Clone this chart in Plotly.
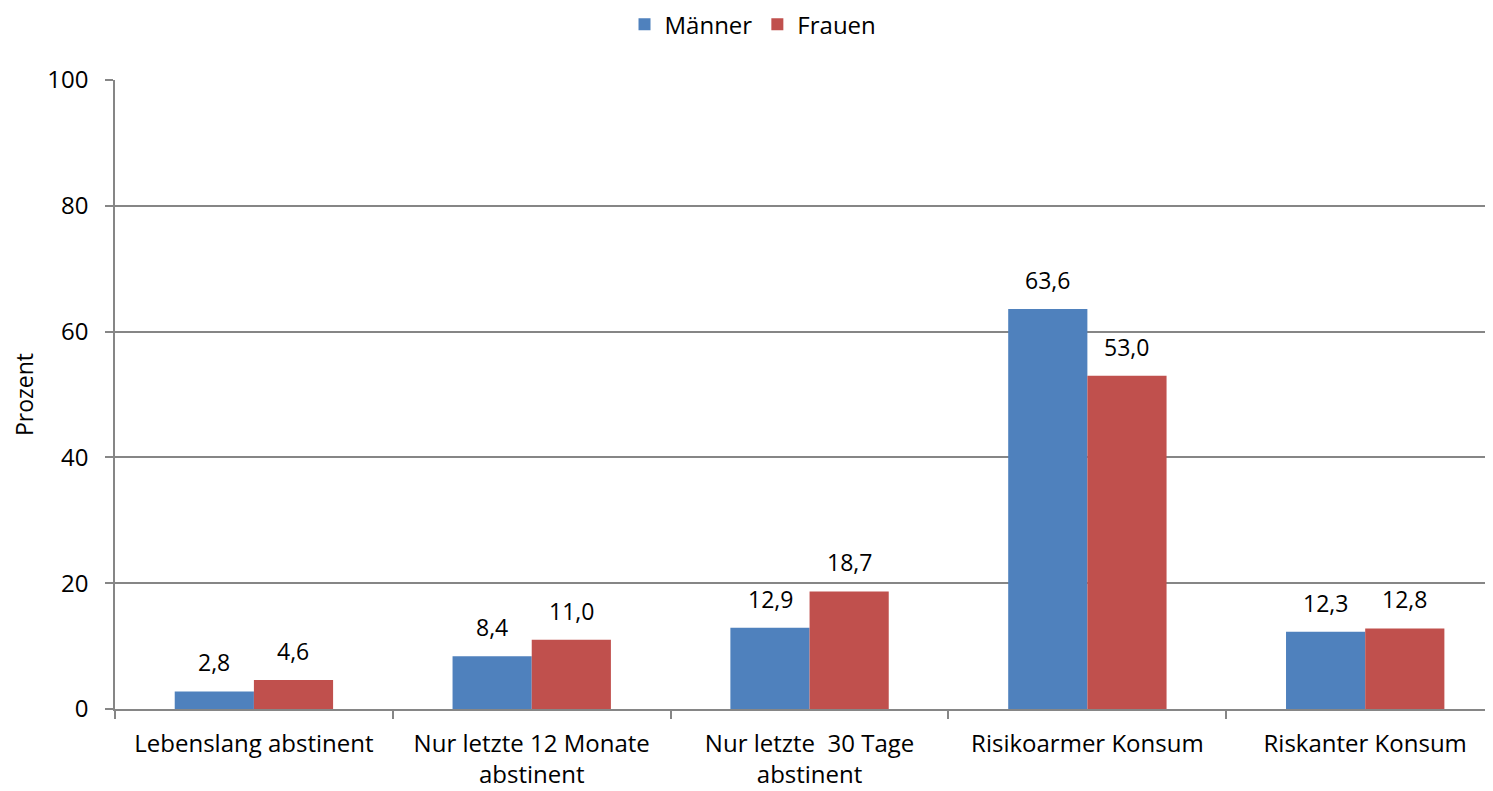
import plotly.graph_objects as go

categories = ["Lebenslang abstinent", "Nur letzte 12 Monate<br>abstinent",
              "Nur letzte  30 Tage<br>abstinent", "Risikoarmer Konsum", "Riskanter Konsum"]
maenner = [2.8, 8.4, 12.9, 63.6, 12.3]
frauen = [4.6, 11.0, 18.7, 53.0, 12.8]
y_ticks = [0, 20, 40, 60, 80, 100]

def fmt(v):
    return f"{v:.1f}".replace(".", ",")

font_family = "Open Sans, Liberation Sans, sans-serif"

fig = go.Figure()
fig.add_trace(go.Bar(name="Männer", x=categories, y=maenner,
                     marker=dict(color="#4F81BD", line=dict(width=0))))
fig.add_trace(go.Bar(name="Frauen", x=categories, y=frauen,
                     marker=dict(color="#C0504D", line=dict(width=0))))

for vals, shift in ((maenner, -39.5), (frauen, 39.5)):
    for c, v in zip(categories, vals):
        fig.add_annotation(x=c, y=v, xref="x", yref="y", text=fmt(v), showarrow=False,
                           xshift=shift, yshift=11, yanchor="bottom",
                           font=dict(size=23, color="black", family=font_family))

fig.update_layout(
    width=1493, height=791,
    margin=dict(l=107, r=8, t=72, b=90, autoexpand=False),
    paper_bgcolor="white", plot_bgcolor="white",
    barmode="group", bargap=0.43, bargroupgap=0,
    font=dict(family=font_family, size=24, color="black"),
    legend=dict(orientation="h", x=0.463, xanchor="center", y=1.088, yanchor="middle",
                font=dict(size=24), traceorder="normal", tracegroupgap=0,
                bgcolor="rgba(0,0,0,0)"),
    xaxis=dict(range=[-0.5, 4.46], showline=True, linecolor="#868686", linewidth=1.5,
               ticks="outside", tickson="boundaries", ticklen=8, tickcolor="#868686",
               tickwidth=1.5, showgrid=False, tickfont=dict(size=24), automargin=False,
               ticklabelstandoff=12),
    yaxis=dict(range=[0, 100], tickvals=y_ticks, showline=True, linecolor="#868686",
               linewidth=1.5, ticks="outside", ticklen=8, tickcolor="#868686",
               tickwidth=1.5, showgrid=True, gridcolor="#868686", gridwidth=1.5,
               zeroline=False, tickfont=dict(size=24), automargin=False,
               ticklabelstandoff=12,
               title=dict(text="Prozent", font=dict(size=23), standoff=35)),
)
fig.write_html("out.html")
